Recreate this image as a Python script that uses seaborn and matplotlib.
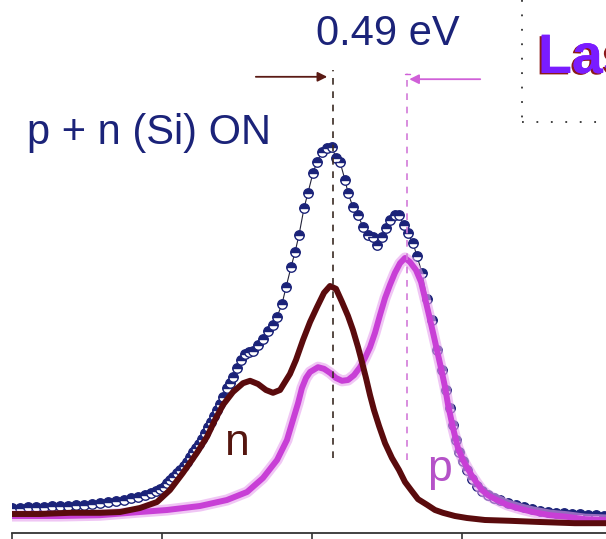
import numpy as np
import pandas as pd
import matplotlib.pyplot as plt
import matplotlib.patheffects as pe
import seaborn as sns
from matplotlib.lines import Line2D

# energia (eV) e intensidade (u.a.)
E_data = [1.000, 1.053, 1.107, 1.160, 1.213, 1.267, 1.320, 1.373, 1.427, 1.480,
          1.533, 1.587, 1.640, 1.693, 1.747, 1.793, 1.840, 1.887, 1.927, 1.960,
          1.987, 2.013, 2.033, 2.053, 2.073, 2.100, 2.120, 2.147, 2.167, 2.187,
          2.207, 2.227, 2.247, 2.267, 2.287, 2.307, 2.327, 2.347, 2.367, 2.387,
          2.407, 2.433, 2.453, 2.473, 2.500, 2.527, 2.553, 2.580, 2.607, 2.640,
          2.673, 2.707, 2.740, 2.767, 2.800, 2.827, 2.860, 2.887, 2.913, 2.947,
          2.973, 3.007, 3.033, 3.067, 3.100, 3.133, 3.160, 3.187, 3.220, 3.240,
          3.273, 3.307, 3.340, 3.373, 3.407, 3.433, 3.467, 3.493, 3.520, 3.553,
          3.580, 3.613, 3.640, 3.673, 3.700, 3.733, 3.767, 3.800, 3.833, 3.867,
          3.893, 3.920, 3.940, 3.960, 3.980, 4.007, 4.033, 4.067, 4.100, 4.133,
          4.173, 4.213, 4.253, 4.307, 4.360, 4.413, 4.467, 4.520, 4.573, 4.627,
          4.680, 4.733, 4.787, 4.840, 4.893, 4.947]
I_data = [4.0, 4.0, 4.2, 4.2, 4.2, 4.5, 4.5, 4.5, 4.8, 4.8,
          5.0, 5.2, 5.5, 5.8, 6.0, 6.5, 6.8, 7.2, 7.8, 8.2,
          8.8, 9.2, 10.2, 11.0, 11.8, 12.8, 13.5, 14.5, 15.5, 16.8,
          18.0, 19.0, 20.0, 21.2, 22.8, 24.2, 25.5, 27.0, 28.5, 30.0,
          31.8, 34.0, 35.2, 36.8, 39.0, 41.0, 42.5, 43.0, 43.2, 44.8,
          46.2, 48.2, 49.8, 51.8, 55.0, 59.2, 64.2, 68.0, 72.2, 79.0,
          82.8, 87.8, 90.5, 93.0, 94.0, 94.2, 91.5, 90.5, 86.0, 82.8,
          79.2, 77.2, 74.2, 72.2, 71.8, 69.8, 71.8, 74.0, 76.0, 77.2,
          77.2, 74.8, 72.8, 70.2, 67.0, 62.8, 56.2, 51.0, 43.5, 38.5,
          33.5, 29.0, 24.8, 21.0, 18.0, 15.8, 13.5, 11.2, 9.5, 8.2,
          7.2, 6.5, 6.0, 5.2, 4.8, 4.2, 3.8, 3.2, 3.0, 2.8,
          2.8, 2.5, 2.5, 2.2, 2.2, 2.0]

# componente n
E_n = [1.000, 1.187, 1.387, 1.587, 1.720, 1.853, 1.967, 2.053, 2.140, 2.233,
       2.300, 2.353, 2.407, 2.473, 2.540, 2.587, 2.640, 2.693, 2.740, 2.787,
       2.853, 2.893, 2.940, 2.987, 3.033, 3.080, 3.120, 3.160, 3.200, 3.240,
       3.273, 3.307, 3.333, 3.360, 3.387, 3.413, 3.447, 3.487, 3.533, 3.580,
       3.620, 3.660, 3.707, 3.767, 3.820, 3.873, 3.953, 4.033, 4.153, 4.320,
       4.520, 4.753, 4.960]
I_n = [2.5, 2.5, 2.8, 2.8, 3.0, 4.0, 5.5, 8.5, 12.8, 17.8,
       21.8, 26.0, 29.8, 33.0, 35.2, 35.8, 35.0, 33.5, 32.8, 33.5,
       37.5, 41.0, 46.0, 50.5, 54.2, 57.8, 59.5, 58.8, 55.5, 52.0,
       48.5, 44.2, 40.5, 36.5, 32.2, 28.5, 24.5, 20.2, 16.5, 13.5,
       10.5, 8.5, 6.2, 4.8, 3.5, 2.8, 2.0, 1.5, 1.0, 0.8,
       0.5, 0.2, 0.2]

# componente p
E_p = [1.000, 1.320, 1.587, 1.853, 2.033, 2.253, 2.433, 2.567, 2.673, 2.767,
       2.833, 2.873, 2.907, 2.933, 2.960, 2.987, 3.040, 3.080, 3.120, 3.160,
       3.200, 3.240, 3.280, 3.320, 3.353, 3.387, 3.420, 3.453, 3.487, 3.520,
       3.553, 3.587, 3.620, 3.653, 3.693, 3.727, 3.753, 3.780, 3.807, 3.833,
       3.860, 3.887, 3.907, 3.940, 3.973, 4.007, 4.033, 4.067, 4.100, 4.133,
       4.173, 4.233, 4.300, 4.387, 4.473, 4.587, 4.700, 4.820, 4.960]
I_p = [2.0, 2.0, 2.2, 3.0, 3.5, 4.5, 6.0, 8.0, 11.5, 16.0,
       21.0, 26.0, 30.2, 34.0, 36.5, 38.0, 39.2, 38.8, 37.8, 36.5,
       35.8, 36.0, 37.2, 39.2, 41.5, 44.2, 47.8, 52.2, 56.5, 59.8,
       62.8, 65.2, 66.5, 65.5, 63.5, 60.5, 56.5, 52.2, 47.8, 43.5,
       39.0, 34.2, 29.8, 24.0, 19.0, 16.0, 14.2, 12.0, 10.2, 8.5,
       7.2, 6.0, 4.8, 3.8, 3.0, 2.2, 1.8, 1.2, 1.0]

n_peak = 3.14
p_peak = 3.63
x_ticks = [1, 2, 3, 4]

navy = '#1b2379'
maroon = '#5a0b0d'
magenta = '#c83fd6'

sns.set_style('ticks')
plt.rcParams['font.family'] = ['Liberation Sans', 'DejaVu Sans']

fig = plt.figure(figsize=(6.06, 5.39), dpi=100)
ax = fig.add_axes([12 / 606, 6 / 539, 594 / 606, 533 / 539])

df = pd.DataFrame({'E': E_data, 'I': I_data})
sns.lineplot(data=df, x='E', y='I', ax=ax, estimator=None, sort=False,
             color='#23233a', lw=0.8, marker='o', ms=6.8, fillstyle='top',
             markerfacecolor=navy, markerfacecoloralt='white',
             markeredgecolor=navy, markeredgewidth=1.0, zorder=2)

# brilho do p
sns.lineplot(x=E_p, y=I_p, ax=ax, estimator=None, sort=False,
             color='#e6a0ee', lw=8, alpha=0.6, zorder=3)
sns.lineplot(x=E_p, y=I_p, ax=ax, estimator=None, sort=False,
             color=magenta, lw=4.3, zorder=3)
sns.lineplot(x=E_n, y=I_n, ax=ax, estimator=None, sort=False,
             color=maroon, lw=4.3, zorder=4)

# linhas verticais dos picos
ax.plot([n_peak, n_peak], [16.5, 113.5], color='#3a2a22', lw=1.2,
        ls=(0, (4, 4)), zorder=5)
ax.plot([p_peak, p_peak], [16.0, 112.8], color='#d27ad8', lw=1.2,
        ls=(0, (4, 4)), zorder=5)

# setas
ax.annotate('', xy=(3.12, 111.8), xytext=(2.607, 111.8),
            arrowprops=dict(arrowstyle='-|>', color='#5a1a14', lw=1.3,
                            mutation_scale=14))
ax.annotate('', xy=(p_peak, 111.2), xytext=(4.14, 111.2),
            arrowprops=dict(arrowstyle='-|>', color='#d060d8', lw=1.3,
                            mutation_scale=14))
ax.plot([p_peak - 0.012, p_peak + 0.02], [112.6, 112.6], color='#d060d8', lw=1)

ax.text(3.507, 119.8, '0.49 eV', color=navy, fontsize=30, ha='center', va='baseline')
ax.text(1.1, 95, 'p + n (Si) ON', color=navy, fontsize=30, ha='left', va='baseline')
ax.text(2.42, 17.2, 'n', color='#55160f', fontsize=32, ha='left', va='baseline')
ax.text(3.767, 10.8, 'p', color='#b552c8', fontsize=32, ha='left', va='baseline')

# caixa pontilhada com "Laser"
fig.add_artist(Line2D([522 / 606, 522 / 606], [1, 1 - 120 / 539],
                      color='#333333', lw=1.3, ls=(0, (1, 7))))
fig.add_artist(Line2D([522 / 606, 1], [1 - 122 / 539, 1 - 122 / 539],
                      color='#333333', lw=1.3, ls=(0, (1, 7))))
fig.text(538 / 606, 1 - 73 / 539, 'Laser ON', color='#7a1cff', fontsize=40,
         fontweight='bold', ha='left', va='baseline',
         family=['Liberation Sans Narrow', 'Liberation Sans'],
         path_effects=[pe.withSimplePatchShadow(offset=(-1.5, -1.0),
                                                shadow_rgbFace='#8b1a1a',
                                                alpha=1.0),
                       pe.Normal()])

ax.set_xlim(1.0, 4.96)
ax.set_ylim(-2.25, 131)
ax.set_xticks(x_ticks)
ax.set_xticklabels([])
ax.set_yticks([])
ax.set_xlabel('')
ax.set_ylabel('')
ax.tick_params(axis='x', direction='out', length=8, width=1.2, colors='#333333')
sns.despine(ax=ax, left=True, right=True, top=True)
ax.spines['bottom'].set_linewidth(1.3)
ax.spines['bottom'].set_color('#333333')
ax.set_facecolor('white')

fig.savefig('out.png', dpi=100)
